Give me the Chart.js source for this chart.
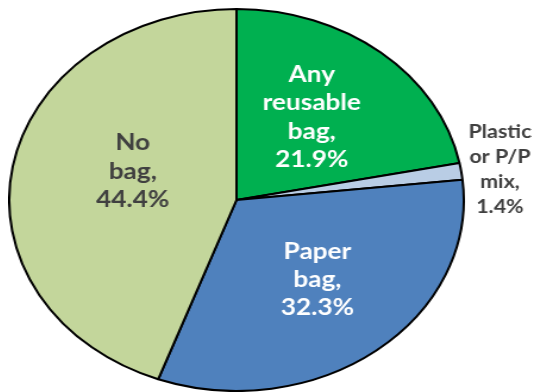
<!DOCTYPE html>
<html>
<head>
<meta charset="utf-8">
<script src="https://cdn.jsdelivr.net/npm/chart.js@4.4.1/dist/chart.umd.min.js"></script>
<style>
    html, body { margin: 0; padding: 0; background: #fff; }
    body { width: 533px; height: 392px; overflow: hidden; position: relative; }
    /* the original pie is an ellipse, so the circle is stretched sideways */
    #wrap { position: absolute; left: 7.5px; top: 0; width: 440px; height: 392px; transform: scaleX(1.19); transform-origin: 0 0; }
</style>
</head>
<body>
<div id="wrap"><canvas id="bagChart"></canvas></div>
<script>
const categories = ["Any reusable bag", "Plastic or P/P mix", "Paper bag", "No bag"];
const shares = [21.9, 1.4, 32.3, 44.4];
const labelLines = [
    ["Any", "reusable", "bag,"],
    ["Plastic", "or P/P", "mix,"],
    ["Paper", "bag,"],
    ["No", "bag,"]
];
const colors = ["#00B050", "#B9CDE5", "#4F81BD", "#C3D69B"];

// where each label sits: fraction of radius, extra angle in degrees, font size, line gap, colour
const labelStyle = [
    { r: 0.545, da: -2, size: 22, gap: 28.5, color: "#ffffff" },
    { r: 1.17, da: 0.8, size: 18, gap: 25, color: "#404040" },
    { r: 0.55, da: -2.4, size: 22, gap: 28, color: "#ffffff" },
    { r: 0.48, da: 8, size: 22, gap: 28.5, color: "#404040" }
];

const sliceLabels = {
    id: "sliceLabels",
    afterDatasetsDraw(chart) {
        const ctx = chart.ctx;
        const arcs = chart.getDatasetMeta(0).data;
        ctx.save();
        ctx.textAlign = "center";
        ctx.textBaseline = "middle";
        arcs.forEach((arc, i) => {
            const p = arc.getProps(["x", "y", "startAngle", "endAngle", "outerRadius"], true);
            const st = labelStyle[i];
            const mid = (p.startAngle + p.endAngle) / 2 + st.da * Math.PI / 180;
            const cx = p.x + Math.cos(mid) * p.outerRadius * st.r;
            const cy = p.y + Math.sin(mid) * p.outerRadius * st.r;
            const lines = labelLines[i].concat([shares[i].toFixed(1) + "%"]);
            ctx.font = "bold " + st.size + "px Lato";
            ctx.fillStyle = st.color;
            const top = cy - (lines.length - 1) * st.gap / 2;
            lines.forEach((txt, k) => ctx.fillText(txt, cx, top + k * st.gap));
        });
        ctx.restore();
    }
};

new Chart(document.getElementById("bagChart"), {
    type: "pie",
    data: {
        labels: categories,
        datasets: [{
            data: shares,
            backgroundColor: colors,
            borderColor: "#000000",
            borderWidth: 2,
            borderAlign: "center"
        }]
    },
    options: {
        responsive: true,
        maintainAspectRatio: false,
        animation: false,
        radius: 191,
        layout: { padding: { left: 0, right: 56, top: 8, bottom: 0 } },
        plugins: {
            legend: { display: false },
            tooltip: { enabled: false }
        }
    },
    plugins: [sliceLabels]
});
</script>
</body>
</html>
